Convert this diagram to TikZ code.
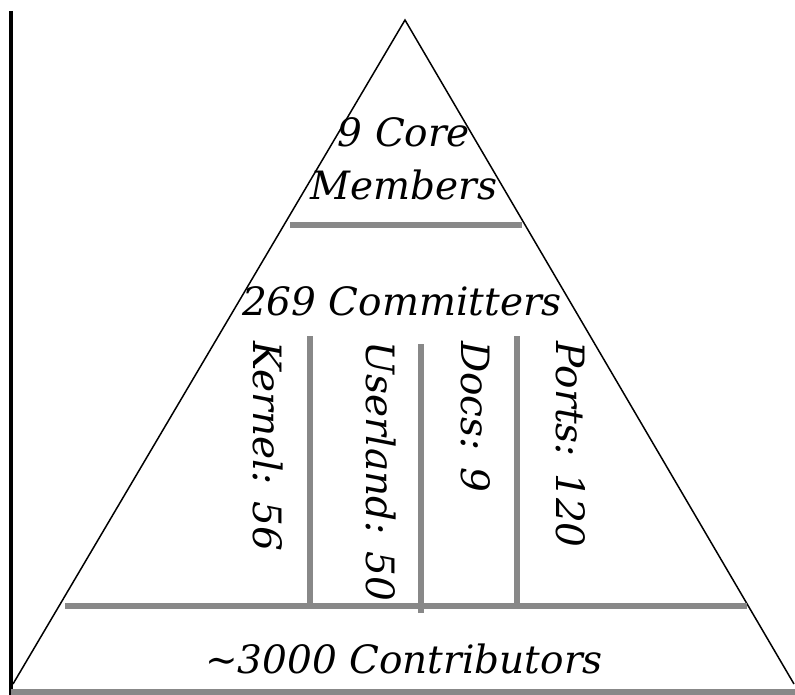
\documentclass[tikz,border=0pt]{standalone}
\usepackage{fontspec}
\setmainfont{DejaVu Serif}
\usepackage{tikz}
\definecolor{bargray}{RGB}{136,136,136}

\begin{document}
\begin{tikzpicture}[x=1pt,y=-1pt]
\tikzset{label/.style = {font=\fontsize{39}{50}\selectfont\itshape, inner sep=0pt}}
\tikzset{bar/.style = {draw=bargray, line width=6pt}}
\tikzset{side/.style = {draw=black, line width=1.5pt}}
\useasboundingbox (0,0) rectangle (795,695);
%\draw[red] (0,0) rectangle (795,695);
\coordinate (top) at (405,20);
\coordinate (bl) at (13,684);
\coordinate (br) at (794,684);
\draw[black, line width=4pt] (11,11) -- (11,695);
\draw[side] (bl) -- (top) -- (br);
\draw[bar] (11,692) -- (795,692);
\draw[bar] (290,225) -- (522,225);
\draw[bar] (65,605.5) -- (747,605.5);
\draw[bar] (310,336) -- (310,605.5);
\draw[bar] (421,344) -- (421,613);
\draw[bar] (517,336) -- (517,605.5);
\node[label, anchor=base] (core) at (404,147) {9 Core};
\node[label, anchor=base] (members) at (404,200) {Members};
\node[label, anchor=base] (committers) at (402,315) {269 Committers};
\node[label, anchor=base] (contrib) at (404,673) {\textasciitilde3000 Contributors};
\node[label, rotate=-90, anchor=base west] (kernel) at (253,341) {Kernel: 56};
\node[label, rotate=-90, anchor=base west] (userland) at (366,341) {Userland: 50};
\node[label, rotate=-90, anchor=base west] (docs) at (461,341) {Docs: 9};
\node[label, rotate=-90, anchor=base west] (ports) at (556,341) {Ports: 120};
\end{tikzpicture}
\end{document}
